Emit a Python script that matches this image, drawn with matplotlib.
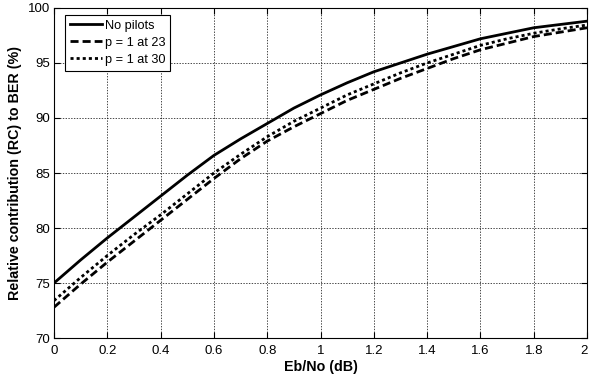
import matplotlib.pyplot as plt
import matplotlib.transforms as mtransforms
import numpy as np

plt.rcParams['font.family'] = ['Liberation Sans', 'DejaVu Sans']

ebno = np.round(np.arange(0, 2.01, 0.1), 1)
no_pilots = [75.0, 77.1, 79.1, 81.0, 82.9, 84.8, 86.6, 88.1, 89.5, 90.9, 92.1,
             93.2, 94.2, 95.0, 95.8, 96.5, 97.2, 97.7, 98.2, 98.5, 98.8]
p1_at_23 = [72.8, 74.9, 76.9, 78.8, 80.7, 82.6, 84.5, 86.3, 87.9, 89.2, 90.4,
            91.6, 92.6, 93.6, 94.5, 95.4, 96.2, 96.8, 97.4, 97.8, 98.2]
p1_at_30 = [73.4, 75.5, 77.5, 79.4, 81.2, 83.1, 85.0, 86.7, 88.3, 89.7, 90.9,
            92.1, 93.1, 94.1, 95.0, 95.8, 96.6, 97.2, 97.7, 98.1, 98.45]
xtick_labels = ["0", "0.2", "0.4", "0.6", "0.8", "1", "1.2", "1.4", "1.6", "1.8", "2"]

fig = plt.figure(figsize=(5.89, 3.79), dpi=100)
ax = fig.add_axes([0.0917, 0.108, 0.905, 0.871])

ax.plot(ebno, no_pilots, color="black", lw=2, label="No pilots")
ax.plot(ebno, p1_at_23, color="black", lw=2, linestyle=(0, (2.9, 1.45)), label="p = 1 at 23")
ax.plot(ebno, p1_at_30, color="black", lw=2, linestyle=(0, (1.1, 1.1)), label="p = 1 at 30")

ax.set_xlim(0, 2)
ax.set_ylim(70, 100)
ax.set_xticks(np.arange(0, 2.01, 0.2))
ax.set_xticklabels(xtick_labels)
ax.set_yticks(range(70, 101, 5))
ax.tick_params(direction="in", labelsize=9.5, length=4, top=True, right=True)
ax.tick_params(axis="x", pad=5)
ax.tick_params(axis="y", pad=3)
ax.grid(True, color="black", linestyle=(0, (2, 2)), linewidth=0.5)

# nudge the last x label so it stays inside the figure
last = ax.get_xticklabels()[-1]
last.set_transform(last.get_transform() + mtransforms.ScaledTranslation(-3 / 100, 0, fig.dpi_scale_trans))

ax.set_xlabel("Eb/No (dB)", fontsize=10.3, fontweight="bold", labelpad=2)
ax.set_ylabel("Relative contribution (RC) to BER (%)", fontsize=10.3, fontweight="bold", labelpad=4)

leg = ax.legend(loc="upper left", bbox_to_anchor=(0.0206, 0.979), borderaxespad=0,
                fontsize=9.2, handlelength=2.5, handletextpad=0.25,
                fancybox=False, framealpha=1, edgecolor="black", borderpad=0.37,
                labelspacing=0.4)
leg.get_frame().set_linewidth(0.8)

plt.savefig("out.png", dpi=100)
